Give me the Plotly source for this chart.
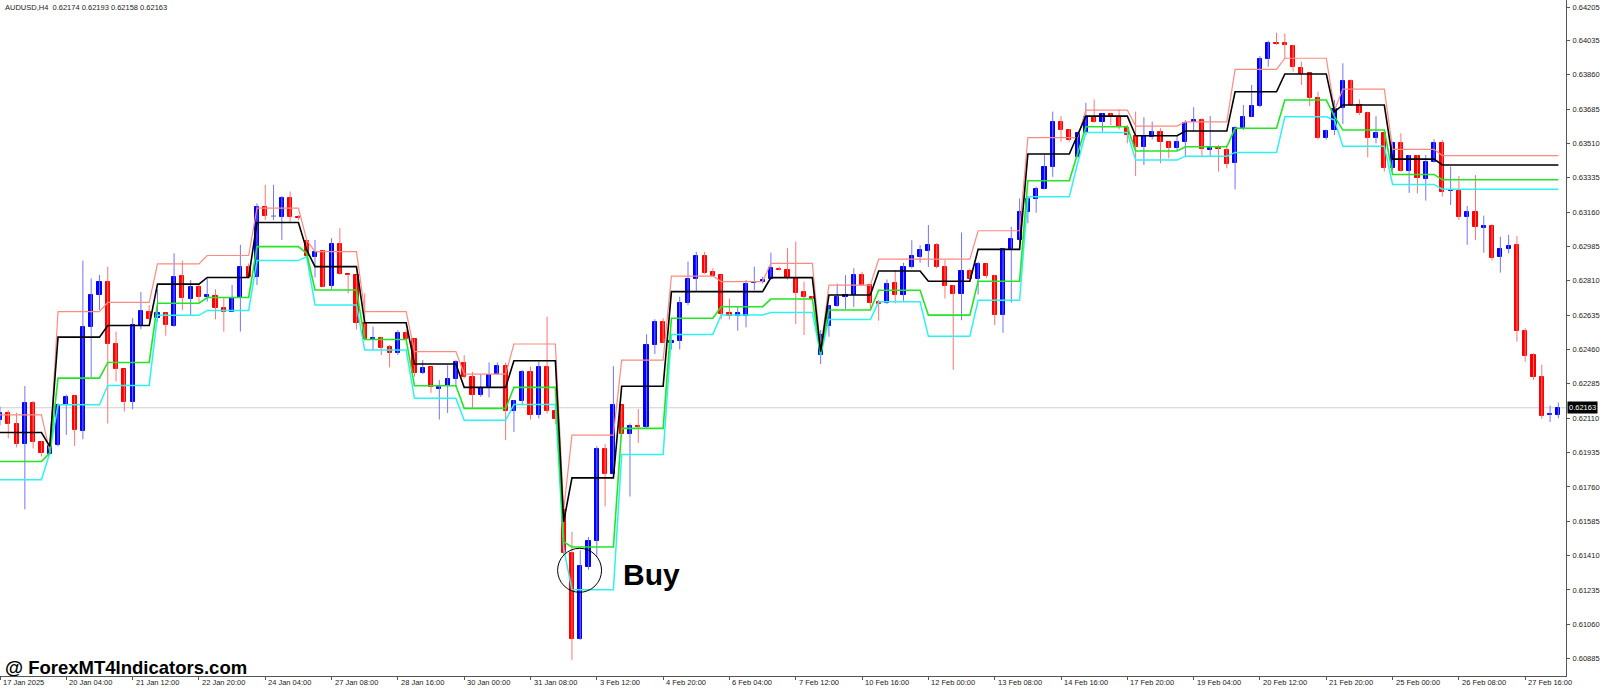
import plotly.graph_objects as go

# ---------------- data (AUDUSD H4) ----------------
open_ = [
0.62100,0.62135,0.62080,0.61981,0.62185,0.61990,0.61930,0.61974,0.62178,0.62222,
0.62047,0.62574,0.62738,0.62806,0.62489,0.62361,0.62195,0.62582,0.62653,0.62619,
0.62645,0.62582,0.62835,0.62719,0.62780,0.62729,0.62733,0.62673,0.62653,0.62724,
0.62879,0.62828,0.63185,0.63140,0.63137,0.63230,0.63137,0.63015,0.62930,0.62964,
0.62783,0.62998,0.62845,0.62840,0.62596,0.62515,0.62520,0.62471,0.62440,0.62542,
0.62516,0.62341,0.62372,0.62260,0.62273,0.62312,0.62389,0.62318,0.62226,0.62267,
0.62333,0.62377,0.62148,0.62199,0.62343,0.62126,0.62373,0.62148,0.61644,0.61423,
0.60987,0.61352,0.61485,0.61954,0.61825,0.62177,0.62029,0.62071,0.62066,0.62483,
0.62602,0.62494,0.62505,0.62695,0.62817,0.62936,0.62857,0.62840,0.62644,0.62632,
0.62630,0.62797,0.62806,0.62817,0.62872,0.62865,0.62822,0.62755,0.62729,0.62432,
0.62579,0.62680,0.62726,0.62738,0.62839,0.62788,0.62703,0.62698,0.62797,0.62738,
0.62878,0.62932,0.62963,0.62995,0.62881,0.62782,0.62745,0.62859,0.62817,0.62895,
0.62834,0.62635,0.62971,0.63018,0.63159,0.63227,0.63278,0.63391,0.63621,0.63578,
0.63442,0.63561,0.63646,0.63621,0.63658,0.63646,0.63587,0.63550,0.63494,0.63544,
0.63566,0.63515,0.63485,0.63519,0.63621,0.63629,0.63476,0.63488,0.63476,0.63408,
0.63587,0.63646,0.63700,0.63938,0.64020,0.64020,0.64008,0.63893,0.63867,0.63740,
0.63536,0.63578,0.63689,0.63828,0.63706,0.63663,0.63536,0.63564,0.63383,0.63513,
0.63371,0.63445,0.63327,0.63417,0.63510,0.63266,0.63267,0.63134,0.63159,0.63078,
0.63089,0.62930,0.62972,0.62993,0.62556,0.62432,0.62320,0.62125,0.62128]

high = [
0.62168,0.62151,0.62138,0.62274,0.62197,0.61995,0.61979,0.62185,0.62229,0.62225,
0.62913,0.62823,0.62840,0.62882,0.62551,0.62361,0.62619,0.62753,0.62687,0.62768,
0.62648,0.62950,0.62913,0.62814,0.62789,0.62823,0.62767,0.62721,0.62789,0.62993,
0.62899,0.63205,0.63299,0.63299,0.63242,0.63265,0.63145,0.63018,0.63018,0.62967,
0.63027,0.63078,0.62845,0.62840,0.62746,0.62576,0.62525,0.62483,0.62559,0.62559,
0.62516,0.62406,0.62372,0.62304,0.62380,0.62406,0.62431,0.62346,0.62335,0.62394,
0.62394,0.62394,0.62202,0.62355,0.62372,0.62398,0.62627,0.62160,0.61658,0.61531,
0.61437,0.61505,0.61967,0.61978,0.62375,0.62177,0.62083,0.62156,0.62537,0.62614,
0.62619,0.62517,0.62729,0.62908,0.62958,0.62958,0.62874,0.62840,0.62720,0.62681,
0.62814,0.62882,0.62831,0.62953,0.62882,0.62976,0.63010,0.62806,0.62732,0.62559,
0.62686,0.62796,0.62839,0.62874,0.62856,0.62793,0.62712,0.62817,0.62864,0.62902,
0.63017,0.62992,0.63094,0.63003,0.62915,0.62788,0.63056,0.62873,0.62907,0.62898,
0.62839,0.62978,0.63085,0.63230,0.63238,0.63290,0.63451,0.63672,0.63650,0.63582,
0.63564,0.63717,0.63734,0.63663,0.63663,0.63684,0.63604,0.63672,0.63643,0.63621,
0.63587,0.63519,0.63547,0.63629,0.63694,0.63638,0.63650,0.63502,0.63502,0.63598,
0.63706,0.63808,0.63955,0.64034,0.64074,0.64071,0.64012,0.63927,0.63870,0.63774,
0.63581,0.63731,0.63918,0.63836,0.63734,0.63672,0.63649,0.63570,0.63519,0.63561,
0.63451,0.63451,0.63451,0.63531,0.63527,0.63392,0.63344,0.63191,0.63349,0.63142,
0.63098,0.63035,0.63044,0.63038,0.62568,0.62441,0.62383,0.62174,0.62190]

low = [
0.62074,0.62007,0.61961,0.61646,0.61956,0.61915,0.61923,0.61966,0.62025,0.61969,
0.62003,0.62319,0.62661,0.62083,0.62297,0.62144,0.62156,0.62563,0.62607,0.62602,
0.62530,0.62575,0.62661,0.62636,0.62700,0.62704,0.62614,0.62551,0.62650,0.62551,
0.62823,0.62789,0.63120,0.63120,0.63018,0.63111,0.63120,0.62930,0.62828,0.62777,
0.62766,0.62840,0.62746,0.62562,0.62508,0.62457,0.62432,0.62369,0.62432,0.62508,
0.62321,0.62335,0.62239,0.62103,0.62137,0.62270,0.62312,0.62160,0.62219,0.62216,
0.62330,0.61998,0.62040,0.62176,0.62103,0.62109,0.62134,0.62080,0.61411,0.60879,
0.60981,0.61338,0.61403,0.61661,0.61820,0.62015,0.61711,0.61984,0.62058,0.62437,
0.62494,0.62460,0.62460,0.62687,0.62755,0.62845,0.62831,0.62613,0.62613,0.62556,
0.62573,0.62763,0.62797,0.62814,0.62862,0.62817,0.62590,0.62534,0.62712,0.62386,
0.62525,0.62677,0.62665,0.62677,0.62783,0.62661,0.62607,0.62692,0.62695,0.62708,
0.62873,0.62902,0.62881,0.62873,0.62720,0.62357,0.62609,0.62813,0.62740,0.62825,
0.62584,0.62545,0.62699,0.63001,0.63103,0.63157,0.63276,0.63340,0.63519,0.63519,
0.63439,0.63553,0.63615,0.63570,0.63604,0.63581,0.63510,0.63344,0.63400,0.63530,
0.63409,0.63434,0.63473,0.63439,0.63570,0.63446,0.63446,0.63366,0.63383,0.63275,
0.63578,0.63643,0.63694,0.63901,0.64012,0.63944,0.63876,0.63808,0.63700,0.63530,
0.63530,0.63553,0.63609,0.63700,0.63655,0.63439,0.63510,0.63366,0.63374,0.63366,
0.63258,0.63255,0.63219,0.63412,0.63239,0.63196,0.63120,0.62993,0.63018,0.62954,
0.62913,0.62852,0.62950,0.62500,0.62398,0.62305,0.62107,0.62091,0.62110]

close = [
0.62135,0.62080,0.61981,0.62189,0.61990,0.61935,0.61969,0.62175,0.62220,0.62050,
0.62577,0.62738,0.62806,0.62489,0.62361,0.62195,0.62585,0.62657,0.62616,0.62645,
0.62584,0.62831,0.62721,0.62780,0.62726,0.62736,0.62670,0.62649,0.62721,0.62882,
0.62828,0.63188,0.63140,0.63140,0.63230,0.63137,0.63129,0.62936,0.62959,0.62780,
0.62998,0.62845,0.62840,0.62593,0.62516,0.62518,0.62469,0.62440,0.62542,0.62516,
0.62341,0.62367,0.62267,0.62270,0.62312,0.62394,0.62321,0.62226,0.62265,0.62330,
0.62375,0.62148,0.62197,0.62343,0.62126,0.62372,0.62148,0.62104,0.61423,0.60987,
0.61355,0.61483,0.61954,0.61825,0.62177,0.62032,0.62070,0.62063,0.62483,0.62602,
0.62494,0.62505,0.62695,0.62817,0.62936,0.62851,0.62834,0.62639,0.62630,0.62644,
0.62794,0.62804,0.62812,0.62874,0.62865,0.62822,0.62749,0.62726,0.62719,0.62534,
0.62681,0.62728,0.62738,0.62839,0.62788,0.62698,0.62692,0.62793,0.62738,0.62878,
0.62936,0.62966,0.62995,0.62878,0.62784,0.62745,0.62859,0.62817,0.62898,0.62834,
0.62635,0.62971,0.63021,0.63159,0.63225,0.63278,0.63391,0.63617,0.63578,0.63527,
0.63561,0.63646,0.63621,0.63658,0.63649,0.63595,0.63553,0.63494,0.63548,0.63570,
0.63515,0.63485,0.63515,0.63616,0.63629,0.63480,0.63488,0.63480,0.63403,0.63587,
0.63643,0.63700,0.63938,0.64023,0.64015,0.64010,0.63898,0.63864,0.63740,0.63536,
0.63573,0.63683,0.63828,0.63706,0.63663,0.63536,0.63564,0.63383,0.63513,0.63371,
0.63445,0.63332,0.63417,0.63510,0.63264,0.63269,0.63137,0.63159,0.63083,0.63089,
0.62928,0.62972,0.62989,0.62556,0.62429,0.62318,0.62123,0.62131,0.62163]

# indicator levels: (first bar index, level)
red_steps = [(0,0.62127),(6,0.61940),(7,0.62653),(13,0.62700),(19,0.62896),(25,0.62939),
    (31,0.63180),(37,0.63018),(38,0.62959),(44,0.62653),(50,0.62449),(56,0.62335),
    (62,0.62488),(68,0.61641),(69,0.62024),(75,0.62406),(81,0.62834),(87,0.62806),
    (93,0.62899),(99,0.62457),(100,0.62788),(106,0.62920),(118,0.63065),(124,0.63539),
    (131,0.63680),(137,0.63598),(143,0.63620),(149,0.63887),(155,0.63944),(161,0.63680),
    (162,0.63787),(168,0.63480),(174,0.63448)]
black_steps = [(0,0.62037),(6,0.61966),(7,0.62523),(13,0.62582),(19,0.62793),(25,0.62827),
    (31,0.63107),(37,0.62967),(38,0.62882),(44,0.62596),(50,0.62386),(56,0.62267),
    (62,0.62403),(68,0.61582),(69,0.61806),(75,0.62273),(81,0.62755),(93,0.62826),
    (99,0.62449),(100,0.62738),(106,0.62860),(112,0.62808),(118,0.62970),(124,0.63456),
    (130,0.63553),(131,0.63649),(137,0.63549),(143,0.63573),(149,0.63773),(155,0.63864),
    (161,0.63672),(162,0.63706),(168,0.63430),(174,0.63400)]
green_steps = [(0,0.61889),(6,0.61932),(7,0.62314),(13,0.62394),(19,0.62696),(25,0.62725),
    (31,0.62984),(37,0.62950),(38,0.62763),(44,0.62511),(50,0.62275),(56,0.62160),
    (62,0.62267),(68,0.61480),(69,0.61454),(75,0.62058),(81,0.62619),(87,0.62678),
    (93,0.62717),(99,0.62440),(100,0.62661),(106,0.62762),(112,0.62635),(118,0.62808),
    (124,0.63320),(130,0.63459),(131,0.63595),(137,0.63471),(143,0.63493),(149,0.63587),
    (155,0.63731),(161,0.63646),(162,0.63578),(168,0.63352),(174,0.63325)]
cyan_steps = [(0,0.61796),(6,0.61932),(7,0.62178),(13,0.62277),(19,0.62634),(25,0.62659),
    (31,0.62913),(37,0.62933),(38,0.62687),(44,0.62457),(50,0.62211),(56,0.62100),
    (62,0.62180),(68,0.61446),(69,0.61236),(75,0.61925),(81,0.62537),(87,0.62636),
    (93,0.62649),(99,0.62432),(100,0.62613),(106,0.62703),(112,0.62527),(118,0.62711),
    (124,0.63238),(130,0.63408),(131,0.63566),(137,0.63425),(143,0.63445),(149,0.63464),
    (155,0.63646),(161,0.63629),(162,0.63496),(168,0.63301),(174,0.63277)]

time_labels = ["17 Jan 2025","20 Jan 04:00","21 Jan 12:00","22 Jan 20:00","24 Jan 04:00",
    "27 Jan 08:00","28 Jan 16:00","30 Jan 00:00","31 Jan 08:00","3 Feb 12:00","4 Feb 20:00",
    "6 Feb 04:00","7 Feb 12:00","10 Feb 16:00","12 Feb 00:00","13 Feb 08:00","14 Feb 16:00",
    "17 Feb 20:00","19 Feb 04:00","20 Feb 12:00","21 Feb 20:00","25 Feb 00:00","26 Feb 08:00",
    "27 Feb 16:00"]
time_label_bars = [0,8,16,24,32,40,48,56,64,72,80,88,96,104,112,120,128,136,144,152,160,168,176,184]

price_ticks = ["0.64205","0.64035","0.63860","0.63685","0.63510","0.63335","0.63160","0.62985",
    "0.62810","0.62635","0.62460","0.62285","0.62110","0.61935","0.61760","0.61585","0.61410",
    "0.61235","0.61060","0.60885"]
last_price = 0.62163
header = "AUDUSD,H4  0.62174 0.62193 0.62158 0.62163"

# ---------------- build ----------------
n = min(len(open_), len(high), len(low), len(close))
bars = list(range(n))

def expand(steps, count):
    out, j = [], 0
    for k in range(count):
        while j + 1 < len(steps) and steps[j + 1][0] <= k:
            j += 1
        out.append(steps[j][1])
    return out

BULL, BEAR = "#0000ff", "#ff0000"
FONT = "Liberation Sans"
fig = go.Figure()

# wicks
for kind, col in (("bull", "#7474ff"), ("bear", "#ff7474")):
    xs, ys = [], []
    for k in bars:
        up = close[k] >= open_[k]
        if (kind == "bull") == up:
            xs += [k, k, None]
            ys += [low[k], high[k], None]
    fig.add_trace(go.Scatter(x=xs, y=ys, mode="lines", line=dict(color=col, width=1),
                             hoverinfo="skip", showlegend=False))

# bodies
for kind, col in (("bull", BULL), ("bear", BEAR)):
    xs, bs, hs = [], [], []
    for k in bars:
        if close[k] == open_[k]:
            continue
        up = close[k] > open_[k]
        if (kind == "bull") == up:
            xs.append(k)
            bs.append(open_[k])
            hs.append(close[k] - open_[k])
    fig.add_trace(go.Bar(x=xs, y=hs, base=bs, width=0.5,
                         marker=dict(color=col, line=dict(color=col, width=1)),
                         hoverinfo="skip", showlegend=False))

# doji
dx, dy = [], []
for k in bars:
    if close[k] == open_[k]:
        dx += [k - 0.3, k + 0.3, None]
        dy += [open_[k], open_[k], None]
if dx:
    fig.add_trace(go.Scatter(x=dx, y=dy, mode="lines", line=dict(color="#808080", width=1.2),
                             hoverinfo="skip", showlegend=False))

# indicator lines
for steps, col, w in ((red_steps, "#ff8a80", 1.2), (cyan_steps, "#2ef2f2", 1.5),
                      (green_steps, "#22e622", 1.6), (black_steps, "#000000", 1.6)):
    fig.add_trace(go.Scatter(x=bars, y=expand(steps, n), mode="lines",
                             line=dict(color=col, width=w), hoverinfo="skip", showlegend=False))

y_lo, y_hi = 0.607965, 0.642407
x_lo, x_hi = 0.0, 188.92

annotations = []
for lab, b in zip(time_labels, time_label_bars):
    annotations.append(dict(x=b, y=0, xref="x", yref="paper", text=lab, showarrow=False,
                            xanchor="left", yanchor="top", xshift=1, yshift=0,
                            font=dict(family=FONT, size=7.5, color="#222222")))
annotations.append(dict(x=1, y=last_price, xref="paper", yref="y", text="%.5f" % last_price,
                        showarrow=False, xanchor="left", yanchor="middle", xshift=1,
                        bgcolor="#000000", borderpad=1,
                        font=dict(family=FONT, size=7.5, color="#ffffff")))
annotations.append(dict(x=0.0017, y=0.9985, xref="paper", yref="paper", text=header,
                        showarrow=False, xanchor="left", yanchor="top",
                        font=dict(family=FONT, size=7.5, color="#222222")))
annotations.append(dict(x=74.95, y=0.61316, xref="x", yref="y", text="<b>Buy</b>",
                        showarrow=False, xanchor="left", yanchor="middle",
                        font=dict(family=FONT, size=30, color="#000000")))
annotations.append(dict(x=0.0019, y=0.0133, xref="paper", yref="paper",
                        text="<b>@ ForexMT4Indicators.com</b>", showarrow=False,
                        xanchor="left", yanchor="middle",
                        font=dict(family=FONT, size=18.5, color="#000000")))

shapes = [
    dict(type="line", xref="paper", yref="y", x0=0, x1=1, y0=last_price, y1=last_price,
         line=dict(color="#cfcfcf", width=1), layer="below"),
    dict(type="circle", xref="x", yref="y", x0=67.27, x1=72.57, y0=0.61223, y1=0.61447,
         line=dict(color="#000000", width=1)),
]

fig.update_layout(
    width=1600, height=688,
    margin=dict(l=0, r=32, t=0, b=12),
    paper_bgcolor="#ffffff", plot_bgcolor="#ffffff",
    barmode="overlay", bargap=0,
    showlegend=False,
    annotations=annotations, shapes=shapes,
    xaxis=dict(range=[x_lo, x_hi], tickvals=time_label_bars, showticklabels=False,
               ticks="outside", ticklen=3, tickcolor="#555555", showline=True,
               linecolor="#555555", linewidth=1, showgrid=False, zeroline=False,
               fixedrange=True),
    yaxis=dict(range=[y_lo, y_hi], side="right", tickvals=[float(t) for t in price_ticks],
               ticktext=price_ticks, ticks="outside", ticklen=3, tickcolor="#555555",
               showline=True, linecolor="#555555", linewidth=1, showgrid=False,
               zeroline=False, tickfont=dict(family=FONT, size=7.5, color="#222222"),
               ticklabelstandoff=1, ticklabeloverflow="allow", fixedrange=True),
)

fig.write_html("out.html", config={"displayModeBar": False},
               post_script="document.body.style.margin='0';document.body.style.overflow='hidden';")
